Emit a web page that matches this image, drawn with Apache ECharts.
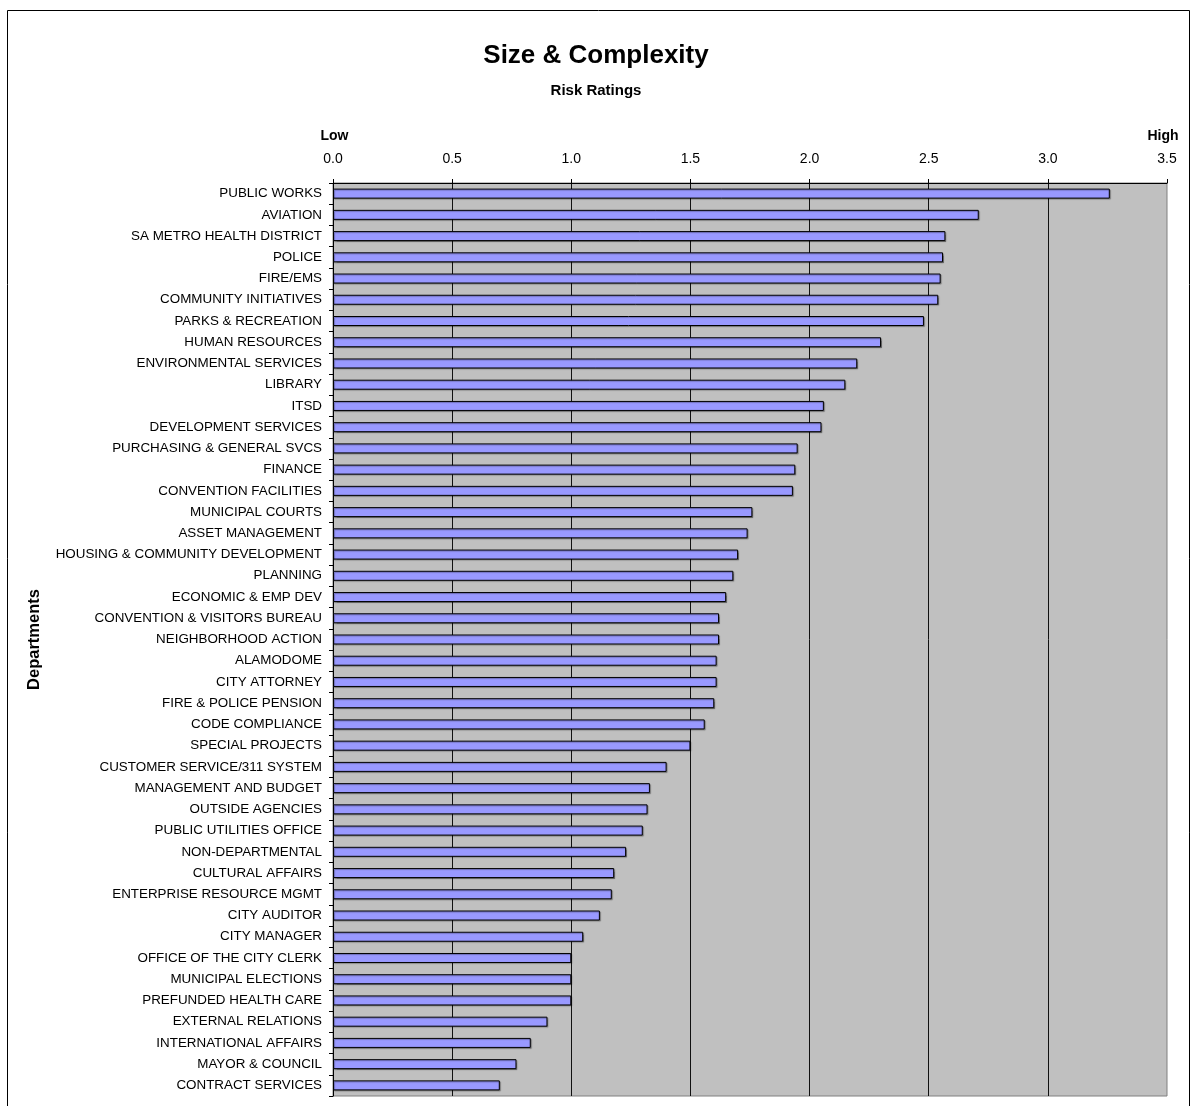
<!DOCTYPE html>
<html>
<head>
<meta charset="utf-8">
<title>Size &amp; Complexity</title>
<script src="https://cdn.jsdelivr.net/npm/echarts@6/dist/echarts.min.js"></script>
<style>
  html, body { margin: 0; padding: 0; background: #ffffff; }
  #chart { width: 1192px; height: 1106px; }
</style>
</head>
<body>
<div id="chart"></div>
<script>
// Departments, listed from highest to lowest risk rating
const departments = [
  'PUBLIC WORKS', 'AVIATION', 'SA METRO HEALTH DISTRICT', 'POLICE', 'FIRE/EMS',
  'COMMUNITY INITIATIVES', 'PARKS & RECREATION', 'HUMAN RESOURCES',
  'ENVIRONMENTAL SERVICES', 'LIBRARY', 'ITSD', 'DEVELOPMENT SERVICES',
  'PURCHASING & GENERAL SVCS', 'FINANCE', 'CONVENTION FACILITIES',
  'MUNICIPAL COURTS', 'ASSET MANAGEMENT', 'HOUSING & COMMUNITY DEVELOPMENT',
  'PLANNING', 'ECONOMIC & EMP DEV', 'CONVENTION & VISITORS BUREAU',
  'NEIGHBORHOOD ACTION', 'ALAMODOME', 'CITY ATTORNEY', 'FIRE & POLICE PENSION',
  'CODE COMPLIANCE', 'SPECIAL PROJECTS', 'CUSTOMER SERVICE/311 SYSTEM',
  'MANAGEMENT AND BUDGET', 'OUTSIDE AGENCIES', 'PUBLIC UTILITIES OFFICE',
  'NON-DEPARTMENTAL', 'CULTURAL AFFAIRS', 'ENTERPRISE RESOURCE MGMT',
  'CITY AUDITOR', 'CITY MANAGER', 'OFFICE OF THE CITY CLERK',
  'MUNICIPAL ELECTIONS', 'PREFUNDED HEALTH CARE', 'EXTERNAL RELATIONS',
  'INTERNATIONAL AFFAIRS', 'MAYOR & COUNCIL', 'CONTRACT SERVICES'
];

// Size & complexity risk rating for each department
const ratings = [
  3.26, 2.71, 2.57, 2.56, 2.55, 2.54, 2.48, 2.30, 2.20, 2.15,
  2.06, 2.05, 1.95, 1.94, 1.93, 1.76, 1.74, 1.70, 1.68, 1.65,
  1.62, 1.62, 1.61, 1.61, 1.60, 1.56, 1.50, 1.40, 1.33, 1.32,
  1.30, 1.23, 1.18, 1.17, 1.12, 1.05, 1.00, 1.00, 1.00, 0.90,
  0.83, 0.77, 0.70
];

// Rating scale and its end captions
const scaleMin = 0;
const scaleMax = 3.5;
const scaleStep = 0.5;
const scaleEnds = { low: 'Low', high: 'High' };

const FONT = "'Liberation Sans', Arial, Helvetica, sans-serif";

const chart = echarts.init(document.getElementById('chart'), null, { renderer: 'canvas' });

chart.setOption({
  backgroundColor: '#ffffff',
  animation: false,
  title: [
    {
      text: 'Size & Complexity',
      left: 'center',
      top: 38,
      textStyle: { fontFamily: FONT, fontSize: 26, fontWeight: 'bold', color: '#000' }
    },
    {
      text: 'Risk Ratings',
      left: 'center',
      top: 78,
      textStyle: { fontFamily: FONT, fontSize: 15, fontWeight: 'bold', color: '#000' }
    }
  ],
  graphic: [
    {
      type: 'rect',
      shape: { x: 7.5, y: 10.5, width: 1182, height: 1110 },
      style: { fill: 'none', stroke: '#000', lineWidth: 1 },
      silent: true,
      z: -1
    }
  ],
  grid: {
    left: 333,
    right: 25,
    top: 183,
    height: 913,
    show: true,
    backgroundColor: '#C0C0C0',
    borderColor: '#808080',
    borderWidth: 1
  },
  xAxis: [
    {
      type: 'value',
      position: 'top',
      min: scaleMin,
      max: scaleMax,
      interval: scaleStep,
      axisLine: { show: true, lineStyle: { color: '#000', width: 1 } },
      axisTick: { show: true, inside: false, length: 4, lineStyle: { color: '#000' } },
      axisLabel: {
        margin: 17,
        fontFamily: FONT,
        fontSize: 14,
        color: '#000',
        showMaxLabel: true,
        showMinLabel: true,
        formatter: v => v.toFixed(1)
      },
      splitLine: {
        show: true,
        showMinLine: false,
        showMaxLine: false,
        lineStyle: { color: '#111', width: 1 }
      }
    },
    {
      type: 'value',
      position: 'top',
      offset: 23,
      min: scaleMin,
      max: scaleMax,
      interval: scaleStep,
      axisLine: { show: false },
      axisTick: { show: false },
      splitLine: { show: false },
      axisLabel: {
        margin: 17,
        fontFamily: FONT,
        fontSize: 14,
        fontWeight: 'bold',
        color: '#000',
        showMaxLabel: true,
        showMinLabel: true,
        formatter: v => (v === scaleMin ? '{low|' + scaleEnds.low + '}' : (v === scaleMax ? '{high|' + scaleEnds.high + '}' : '')),
        rich: {
          low: { fontFamily: FONT, fontSize: 14, fontWeight: 'bold', color: '#000', padding: [0, 0, 0, 3] },
          high: { fontFamily: FONT, fontSize: 14, fontWeight: 'bold', color: '#000', padding: [0, 8, 0, 0] }
        }
      }
    }
  ],
  yAxis: {
    type: 'category',
    data: departments,
    inverse: true,
    name: 'Departments',
    nameLocation: 'middle',
    nameRotate: 90,
    nameGap: 290,
    nameTextStyle: { fontFamily: FONT, fontSize: 16.5, fontWeight: 'bold', color: '#000' },
    axisLine: { show: true, lineStyle: { color: '#000', width: 1 } },
    axisTick: { show: true, inside: false, length: 4, alignWithLabel: false, lineStyle: { color: '#000' } },
    axisLabel: {
      margin: 11,
      interval: 0,
      fontFamily: FONT,
      fontSize: 13.4,
      color: '#000'
    },
    splitLine: { show: false }
  },
  series: [
    {
      type: 'bar',
      xAxisIndex: 0,
      data: ratings,
      barWidth: 10,
      itemStyle: {
        color: '#9999FF',
        borderColor: '#000',
        borderWidth: 1,
        shadowColor: 'rgba(0,0,0,0.3)',
        shadowBlur: 1,
        shadowOffsetX: 1,
        shadowOffsetY: 1
      },
      emphasis: { disabled: true }
    }
  ]
});
</script>
</body>
</html>
